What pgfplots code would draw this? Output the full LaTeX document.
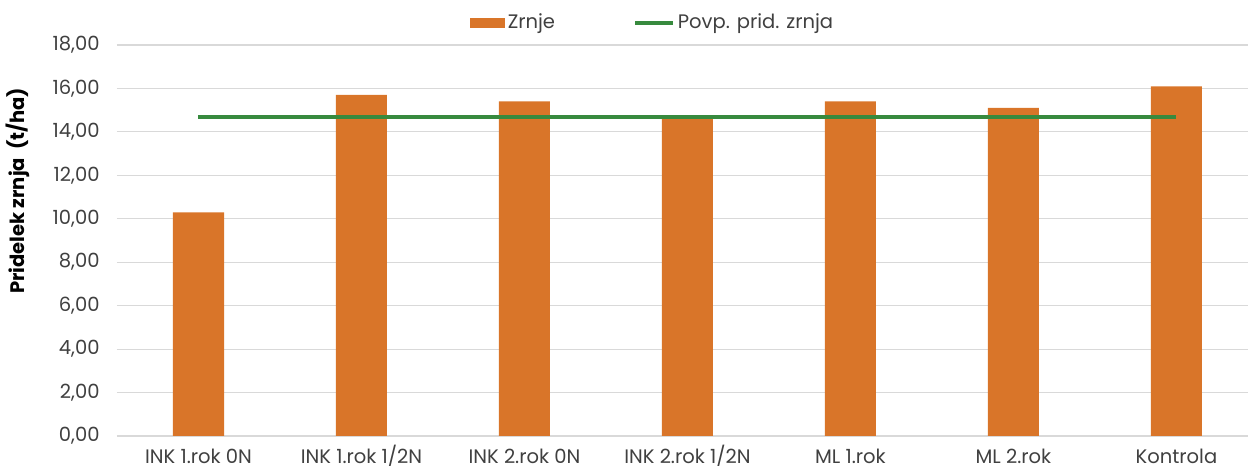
\documentclass[border=0pt]{standalone}
\usepackage{fontspec}
\setmainfont{Poppins}
\usepackage{pgfplots}
\pgfplotsset{compat=1.18}
\definecolor{barorange}{RGB}{217,117,41}
\definecolor{avggreen}{RGB}{55,138,62}
\definecolor{gridgray}{RGB}{217,217,217}
\definecolor{txt}{RGB}{64,64,64}
\begin{document}
\begin{tikzpicture}
\path[use as bounding box] (-58.5bp,-15bp) rectangle (565.5bp,218bp);
\begin{axis}[
  scale only axis, width=565.5bp, height=195.5bp,
  xmin=-0.5, xmax=6.439, ymin=0, ymax=18,
  ytick={0,2,...,18},
  xtick={0,...,6},
  xticklabels={INK 1.rok 0N, INK 1.rok 1/2N, INK 2.rok 0N, INK 2.rok 1/2N, ML 1.rok, ML 2.rok, Kontrola},
  ymajorgrids, grid style={gridgray, line width=0.6bp},
  separate axis lines,
  axis x line*=bottom, axis y line*=left,
  x axis line style={gridgray, line width=0.8bp, -},
  y axis line style={draw=none},
  major tick length=0pt,
  tick label style={font=\fontsize{9.8}{11}\selectfont, text=txt},
  yticklabel style={anchor=east, inner sep=0pt, xshift=-8.5bp},
  xticklabel style={anchor=base, inner sep=0pt, yshift=-13.5bp},
  /pgf/number format/.cd, fixed, fixed zerofill, precision=2, use comma, assume math mode=true,
  /pgfplots/.cd,
  ylabel={Pridelek zrnja\ \ (t/ha)},
  ylabel style={at={(axis description cs:-0.0875,0.627)}, anchor=center, font=\bfseries\fontsize{9.8}{11}\selectfont, text=black},
  legend style={draw=none, fill=none, legend columns=-1, at={(axis description cs:0.3121,1.0563)}, anchor=west,
    font=\fontsize{9.8}{11}\selectfont, text=txt, inner sep=0pt,
    nodes={inner sep=1.2bp},
    /tikz/every even column/.append style={column sep=38bp}},
]
\addplot[ybar, bar width=0.313, fill=barorange, draw=none,
  legend image code/.code={\fill[barorange] (0bp,-2.4bp) rectangle (17.5bp,2.4bp);}]
  coordinates {(0,10.3) (1,15.7) (2,15.4) (3,14.6) (4,15.4) (5,15.1) (6,16.1)};
\addlegendentry{Zrnje}
\addplot[avggreen, line width=2bp, mark=none,
  legend image code/.code={\draw[avggreen, line width=2bp] (0bp,0bp) -- (19bp,0bp);}]
  coordinates {(0,14.7) (6,14.7)};
\addlegendentry{Povp. prid. zrnja}
\end{axis}
\end{tikzpicture}
\end{document}
